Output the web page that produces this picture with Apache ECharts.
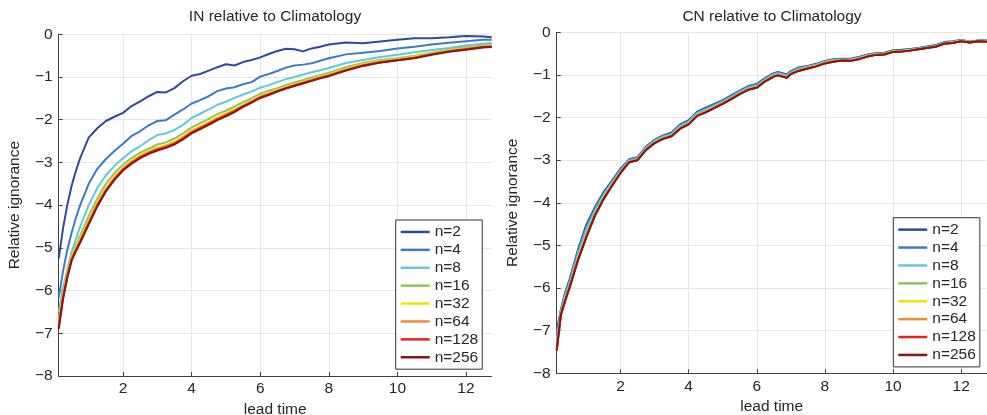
<!DOCTYPE html>
<html>
<head>
<meta charset="utf-8">
<script src="https://cdn.jsdelivr.net/npm/echarts@6/dist/echarts.min.js"></script>
<style>
html,body{margin:0;padding:0;background:#fff;}
#c{width:987px;height:415px;}
</style>
</head>
<body>
<div id="c"></div>
<script>
// ---- data ----
const seriesNames = ['n=2','n=4','n=8','n=16','n=32','n=64','n=128','n=256'];
const xTicks = [2,4,6,8,10,12];
const yTicks = [0,-1,-2,-3,-4,-5,-6,-7,-8];

// IN relative to Climatology
const xLeft = [0.125,0.25,0.375,0.5,0.625,0.75,1,1.25,1.5,1.75,2,2.25,2.5,2.75,3,3.25,3.5,3.75,4,4.25,4.5,4.75,5,5.25,5.5,5.75,6,6.25,6.5,6.75,7,7.25,7.5,7.75,8,8.5,9,9.5,10,10.5,11,11.5,12,12.5,12.75];
const inN2   = [-5.25,-4.55,-4.0,-3.55,-3.2,-2.9,-2.42,-2.2,-2.03,-1.93,-1.84,-1.68,-1.57,-1.45,-1.35,-1.36,-1.26,-1.1,-0.97,-0.93,-0.85,-0.77,-0.70,-0.73,-0.65,-0.60,-0.54,-0.46,-0.39,-0.34,-0.35,-0.40,-0.33,-0.29,-0.24,-0.19,-0.21,-0.17,-0.13,-0.09,-0.09,-0.07,-0.04,-0.05,-0.07];
const inN4   = [-6.17,-5.55,-5.05,-4.65,-4.3,-4.0,-3.5,-3.15,-2.92,-2.73,-2.56,-2.38,-2.27,-2.13,-2.03,-2.01,-1.88,-1.76,-1.62,-1.54,-1.45,-1.33,-1.27,-1.24,-1.17,-1.12,-0.99,-0.93,-0.86,-0.78,-0.73,-0.71,-0.68,-0.62,-0.56,-0.47,-0.43,-0.39,-0.33,-0.29,-0.24,-0.20,-0.16,-0.13,-0.13];
const inN8   = [-6.5,-5.95,-5.5,-5.1,-4.8,-4.5,-4.0,-3.6,-3.3,-3.08,-2.9,-2.74,-2.62,-2.48,-2.36,-2.32,-2.24,-2.12,-1.96,-1.86,-1.76,-1.65,-1.58,-1.49,-1.41,-1.34,-1.25,-1.19,-1.12,-1.05,-1.0,-0.94,-0.89,-0.84,-0.79,-0.67,-0.60,-0.53,-0.48,-0.42,-0.37,-0.32,-0.26,-0.22,-0.20];
const inN16  = [-6.65,-6.05,-5.55,-5.18,-4.95,-4.72,-4.25,-3.85,-3.5,-3.25,-3.05,-2.9,-2.77,-2.68,-2.58,-2.53,-2.44,-2.32,-2.18,-2.08,-1.98,-1.87,-1.79,-1.69,-1.59,-1.5,-1.39,-1.32,-1.26,-1.19,-1.13,-1.07,-1.01,-0.96,-0.9,-0.77,-0.67,-0.60,-0.56,-0.50,-0.43,-0.36,-0.30,-0.26,-0.24];
const inN32  = [-6.75,-6.1,-5.6,-5.22,-5.0,-4.8,-4.35,-3.94,-3.6,-3.33,-3.12,-2.96,-2.83,-2.73,-2.65,-2.59,-2.51,-2.39,-2.25,-2.15,-2.05,-1.94,-1.85,-1.75,-1.65,-1.55,-1.44,-1.37,-1.3,-1.23,-1.17,-1.11,-1.05,-0.99,-0.94,-0.81,-0.70,-0.63,-0.59,-0.52,-0.45,-0.38,-0.33,-0.28,-0.27];
const inN64  = [-6.8,-6.15,-5.65,-5.26,-5.04,-4.84,-4.4,-3.98,-3.64,-3.37,-3.15,-2.99,-2.86,-2.76,-2.68,-2.62,-2.54,-2.42,-2.28,-2.18,-2.08,-1.97,-1.88,-1.78,-1.67,-1.57,-1.46,-1.39,-1.32,-1.25,-1.19,-1.13,-1.07,-1.01,-0.96,-0.83,-0.72,-0.65,-0.60,-0.54,-0.46,-0.39,-0.34,-0.29,-0.28];
const inN128 = [-6.85,-6.18,-5.68,-5.28,-5.06,-4.86,-4.43,-4.01,-3.66,-3.39,-3.17,-3.01,-2.88,-2.78,-2.70,-2.64,-2.56,-2.44,-2.30,-2.20,-2.10,-1.99,-1.90,-1.80,-1.69,-1.59,-1.48,-1.41,-1.33,-1.26,-1.20,-1.14,-1.08,-1.02,-0.97,-0.84,-0.73,-0.66,-0.61,-0.55,-0.47,-0.40,-0.35,-0.30,-0.29];
const inN256 = [-6.9,-6.2,-5.7,-5.3,-5.08,-4.88,-4.45,-4.03,-3.68,-3.41,-3.19,-3.03,-2.9,-2.8,-2.72,-2.66,-2.58,-2.46,-2.32,-2.22,-2.12,-2.01,-1.92,-1.82,-1.7,-1.6,-1.49,-1.42,-1.34,-1.27,-1.21,-1.15,-1.09,-1.03,-0.98,-0.85,-0.74,-0.66,-0.61,-0.56,-0.48,-0.41,-0.36,-0.31,-0.30];

// CN relative to Climatology
const xRight = [0.125,0.25,0.375,0.5,0.75,1,1.25,1.5,1.75,2,2.25,2.5,2.75,3,3.25,3.5,3.75,4,4.25,4.5,4.75,5,5.25,5.5,5.75,6,6.25,6.5,6.625,6.875,7,7.25,7.5,7.75,8,8.25,8.5,8.75,9,9.25,9.5,9.75,10,10.25,10.5,10.75,11,11.25,11.5,11.75,12,12.25,12.5,12.75];
const cnN2   = [-7.0,-6.5,-6.1,-5.8,-5.1,-4.5,-4.1,-3.75,-3.48,-3.2,-2.98,-2.93,-2.68,-2.52,-2.42,-2.35,-2.16,-2.06,-1.86,-1.77,-1.68,-1.59,-1.48,-1.37,-1.26,-1.21,-1.07,-0.96,-0.93,-0.99,-0.91,-0.82,-0.79,-0.74,-0.67,-0.63,-0.62,-0.62,-0.58,-0.52,-0.49,-0.48,-0.42,-0.41,-0.39,-0.37,-0.33,-0.3,-0.23,-0.21,-0.18,-0.22,-0.19,-0.19];
const cnN4   = [-7.07,-6.52,-6.13,-5.83,-5.14,-4.55,-4.13,-3.78,-3.50,-3.22,-2.99,-2.94,-2.69,-2.53,-2.43,-2.36,-2.18,-2.08,-1.88,-1.79,-1.70,-1.60,-1.49,-1.38,-1.27,-1.22,-1.08,-0.97,-0.94,-1.00,-0.92,-0.83,-0.80,-0.75,-0.68,-0.64,-0.63,-0.63,-0.59,-0.53,-0.50,-0.49,-0.43,-0.42,-0.40,-0.37,-0.34,-0.31,-0.24,-0.22,-0.18,-0.22,-0.19,-0.19];
const cnN8   = [-7.19,-6.55,-6.18,-5.88,-5.20,-4.62,-4.18,-3.82,-3.53,-3.24,-3.01,-2.96,-2.71,-2.55,-2.45,-2.39,-2.20,-2.10,-1.90,-1.81,-1.72,-1.63,-1.52,-1.40,-1.30,-1.25,-1.10,-0.99,-0.96,-1.02,-0.94,-0.85,-0.81,-0.76,-0.69,-0.65,-0.64,-0.64,-0.60,-0.54,-0.51,-0.50,-0.44,-0.43,-0.41,-0.38,-0.35,-0.32,-0.25,-0.23,-0.19,-0.23,-0.20,-0.20];
const cnN16  = [-7.35,-6.59,-6.25,-5.95,-5.29,-4.73,-4.25,-3.88,-3.57,-3.28,-3.03,-2.98,-2.74,-2.58,-2.48,-2.42,-2.24,-2.14,-1.94,-1.85,-1.76,-1.66,-1.55,-1.43,-1.33,-1.28,-1.13,-1.02,-0.99,-1.05,-0.96,-0.88,-0.83,-0.78,-0.71,-0.67,-0.65,-0.66,-0.62,-0.56,-0.52,-0.51,-0.45,-0.44,-0.42,-0.39,-0.36,-0.33,-0.26,-0.24,-0.20,-0.24,-0.21,-0.21];
const cnN32  = [-7.40,-6.60,-6.27,-5.97,-5.31,-4.76,-4.27,-3.89,-3.58,-3.29,-3.04,-2.99,-2.75,-2.59,-2.49,-2.43,-2.25,-2.15,-1.95,-1.86,-1.77,-1.67,-1.56,-1.44,-1.34,-1.29,-1.14,-1.03,-1.00,-1.06,-0.97,-0.89,-0.84,-0.79,-0.72,-0.68,-0.65,-0.66,-0.62,-0.56,-0.52,-0.51,-0.45,-0.44,-0.42,-0.39,-0.36,-0.33,-0.26,-0.24,-0.20,-0.24,-0.21,-0.21];
const cnN64  = [-7.43,-6.61,-6.28,-5.98,-5.33,-4.78,-4.28,-3.91,-3.59,-3.29,-3.04,-2.99,-2.75,-2.59,-2.49,-2.43,-2.25,-2.15,-1.95,-1.87,-1.77,-1.67,-1.56,-1.44,-1.34,-1.29,-1.14,-1.03,-1.00,-1.06,-0.97,-0.89,-0.84,-0.79,-0.72,-0.68,-0.66,-0.67,-0.63,-0.57,-0.53,-0.52,-0.46,-0.45,-0.43,-0.40,-0.37,-0.34,-0.27,-0.25,-0.21,-0.24,-0.21,-0.22];
const cnN128 = [-7.46,-6.62,-6.29,-5.99,-5.34,-4.79,-4.29,-3.91,-3.60,-3.30,-3.05,-3.00,-2.76,-2.60,-2.50,-2.44,-2.26,-2.16,-1.96,-1.88,-1.78,-1.68,-1.57,-1.45,-1.35,-1.30,-1.15,-1.04,-1.01,-1.07,-0.98,-0.90,-0.85,-0.80,-0.73,-0.69,-0.66,-0.67,-0.63,-0.57,-0.53,-0.52,-0.46,-0.45,-0.43,-0.40,-0.37,-0.34,-0.27,-0.25,-0.21,-0.24,-0.21,-0.22];
const cnN256 = [-7.47,-6.62,-6.3,-6.0,-5.35,-4.8,-4.3,-3.92,-3.6,-3.3,-3.05,-3.0,-2.76,-2.6,-2.5,-2.44,-2.26,-2.16,-1.96,-1.88,-1.78,-1.68,-1.57,-1.45,-1.35,-1.3,-1.15,-1.04,-1.01,-1.07,-0.98,-0.9,-0.85,-0.8,-0.73,-0.69,-0.66,-0.67,-0.63,-0.57,-0.53,-0.52,-0.46,-0.45,-0.43,-0.4,-0.37,-0.34,-0.27,-0.25,-0.21,-0.24,-0.21,-0.22];

const inData = [inN2,inN4,inN8,inN16,inN32,inN64,inN128,inN256];
const cnData = [cnN2,cnN4,cnN8,cnN16,cnN32,cnN64,cnN128,cnN256];
const colors = ['#2E4A9E','#3A7BC8','#62C8DC','#8DC65E','#F2E400','#F58A2D','#E8201E','#8C1414'];

// ---- chart ----
const FONT = 'Helvetica, Arial, "Liberation Sans", sans-serif';
const TXT = '#262626';
const FS = 15.5;
const minus = v => String(v).replace('-', '\u2212');

function xAxisCfg(gi){
  return {
    type:'value', gridIndex:gi, min:0.125, max:12.75,
    name:'lead time', nameLocation:'middle', nameGap:23,
    nameTextStyle:{color:TXT, fontSize:FS, fontFamily:FONT},
    axisLine:{show:true, onZero:false, lineStyle:{color:'#404040', width:1}},
    axisTick:{show:true, inside:true, length:4, customValues:xTicks, lineStyle:{color:'#404040'}},
    axisLabel:{customValues:xTicks, color:TXT, fontSize:FS, fontFamily:FONT, margin:5,
               showMinLabel:true, showMaxLabel:true},
    splitLine:{show:true, lineStyle:{color:'#e6e6e6', width:1}}
  };
}
function yAxisCfg(gi){
  return {
    type:'value', gridIndex:gi, min:-8, max:0, interval:1,
    name:'Relative ignorance', nameLocation:'middle', nameGap:36,
    nameTextStyle:{color:TXT, fontSize:FS, fontFamily:FONT},
    axisLine:{show:true, onZero:false, lineStyle:{color:'#404040', width:1}},
    axisTick:{show:true, inside:true, length:4, lineStyle:{color:'#404040'}},
    axisLabel:{color:TXT, fontSize:FS, fontFamily:FONT, margin:6, formatter:minus},
    splitLine:{show:true, lineStyle:{color:'#e6e6e6', width:1}}
  };
}
function legendCfg(left, top){
  return {
    data:seriesNames, orient:'vertical', left:left, top:top,
    padding:[3,4,3,5], itemGap:0, itemWidth:29, itemHeight:2.5, icon:'rect',
    backgroundColor:'#fff', borderColor:'#333', borderWidth:1, borderRadius:0,
    textStyle:{color:TXT, fontSize:FS, fontFamily:FONT, lineHeight:17.9},
    selectedMode:false
  };
}

const series = [];
inData.forEach((arr,i)=>{
  series.push({type:'line', name:seriesNames[i], xAxisIndex:0, yAxisIndex:0,
    data:xLeft.map((x,j)=>[x, arr[j]]), showSymbol:false, symbol:'none',
    lineStyle:{width:2, color:colors[i]}, itemStyle:{color:colors[i]}, animation:false});
});
cnData.forEach((arr,i)=>{
  series.push({type:'line', name:seriesNames[i], xAxisIndex:1, yAxisIndex:1,
    data:xRight.map((x,j)=>[x, arr[j]]), showSymbol:false, symbol:'none',
    lineStyle:{width:2, color:colors[i]}, itemStyle:{color:colors[i]}, animation:false});
});

const chart = echarts.init(document.getElementById('c'), null, {renderer:'canvas'});
chart.setOption({
  backgroundColor:'#fff',
  animation:false,
  textStyle:{fontFamily:FONT},
  title:[
    {text:'IN relative to Climatology', left:275, top:9, textAlign:'center', padding:0,
     textStyle:{color:TXT, fontSize:FS, fontWeight:'normal', fontFamily:FONT}},
    {text:'CN relative to Climatology', left:772, top:9, textAlign:'center', padding:0,
     textStyle:{color:TXT, fontSize:FS, fontWeight:'normal', fontFamily:FONT}}
  ],
  grid:[
    {left:58.7, top:34.3, width:433, height:341.7, containLabel:false, outerBoundsMode:'none'},
    {left:556.7, top:32.3, width:430, height:341, containLabel:false, outerBoundsMode:'none'}
  ],
  xAxis:[xAxisCfg(0), xAxisCfg(1)],
  yAxis:[yAxisCfg(0), yAxisCfg(1)],
  legend:[legendCfg(395.7,220), legendCfg(893.3,217.7)],
  series:series
});
</script>
</body>
</html>
